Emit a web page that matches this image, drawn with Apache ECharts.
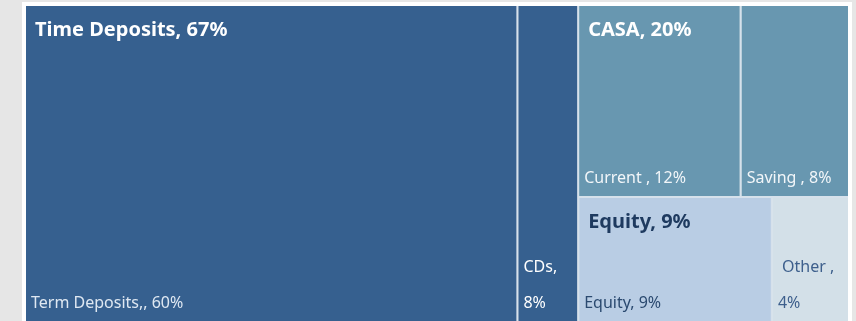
<!DOCTYPE html>
<html>
<head>
<meta charset="utf-8">
<script src="https://cdn.jsdelivr.net/npm/echarts@6/dist/echarts.min.js"></script>
<style>
  html, body { margin: 0; padding: 0; background: #e6e6e6; overflow: hidden; }
  #panel { position: absolute; left: 22px; top: 2px; width: 830px; height: 330px; background: #ffffff; }
  #chart { position: absolute; left: 0; top: 0; width: 856px; height: 321px; }
</style>
</head>
<body>
<div id="panel"></div>
<div id="chart"></div>
<script>
// ---- data ----
const groups = ['Time Deposits', 'CASA', 'Equity', 'Other'];
const groupLabels = ['Time Deposits, 67%', 'CASA, 20%', 'Equity, 9%', ''];
const groupColors = ['#36608f', '#6897b0', '#b9cde4', '#d3e0e8'];
const groupTextColors = ['#ffffff', '#ffffff', '#1e3a5f', '#3d5f8c'];

const leaves = ['Term Deposits', 'CDs', 'Current', 'Saving', 'Equity', 'Other'];
const leafParent = [0, 0, 1, 1, 2, 3];
const leafValues = [60, 7.4, 12, 8, 9.3, 3.7];   // area shares
const leafLabels = ['Term Deposits,, 60%', 'CDs,\n8%', 'Current , 12%', 'Saving , 8%', 'Equity, 9%', ' Other ,\n4%'];
const leafTextColors = ['#dfe8f2', '#ffffff', '#f2f6f9', '#f2f6f9', '#2b4a70', '#3d5f8c'];

const FONT = 'Noto Sans';
const BOX = { left: 26, top: 6, width: 822, height: 315 };
const GAP = '#d6e1eb';

const tree = groups.map((g, gi) => ({
  name: g,
  itemStyle: { color: groupColors[gi] },
  children: leaves.map((l, li) => ({ l, li })).filter(o => leafParent[o.li] === gi).map(o => ({
    name: o.l,
    value: leafValues[o.li],
    itemStyle: { color: groupColors[gi] },
    label: {
      show: true,
      position: 'insideBottomLeft',
      formatter: leafLabels[o.li],
      color: leafTextColors[o.li],
      fontFamily: FONT,
      fontSize: 16,
      lineHeight: 36,
      padding: [0, 0, 0, 5]
    }
  }))
}));

const headerData = groups.map((g, gi) => ({
  name: g,
  value: leafValues.reduce((s, v, i) => s + (leafParent[i] === gi ? v : 0), 0),
  label: {
    show: groupLabels[gi] !== '',
    position: 'insideTopLeft',
    formatter: groupLabels[gi],
    color: groupTextColors[gi],
    fontFamily: FONT,
    fontWeight: 'bold',
    fontSize: 20,
    padding: [14, 0, 0, 9]
  }
}));

const common = {
  type: 'treemap',
  left: BOX.left, top: BOX.top, width: BOX.width, height: BOX.height,
  roam: false, nodeClick: false,
  breadcrumb: { show: false },
  animation: false,
  visibleMin: 0,
  squareRatio: 1
};

const chart = echarts.init(document.getElementById('chart'), null, { renderer: 'canvas' });
chart.setOption({
  backgroundColor: 'transparent',
  animation: false,
  series: [
    Object.assign({}, common, {
      data: tree,
      levels: [
        { itemStyle: { borderWidth: 0, gapWidth: 2, borderColor: GAP } },
        { itemStyle: { borderWidth: 0, gapWidth: 2, borderColor: GAP } },
        { itemStyle: { borderWidth: 0, gapWidth: 0 } }
      ]
    }),
    Object.assign({}, common, {
      z: 5,
      silent: true,
      data: headerData,
      itemStyle: { color: 'rgba(0,0,0,0)', borderWidth: 0, borderColor: 'rgba(0,0,0,0)' },
      levels: [
        { itemStyle: { borderWidth: 0, gapWidth: 2, borderColor: 'rgba(0,0,0,0)' } },
        { itemStyle: { color: 'rgba(0,0,0,0)', borderWidth: 0, borderColor: 'rgba(0,0,0,0)' } }
      ]
    })
  ]
});
</script>
</body>
</html>
